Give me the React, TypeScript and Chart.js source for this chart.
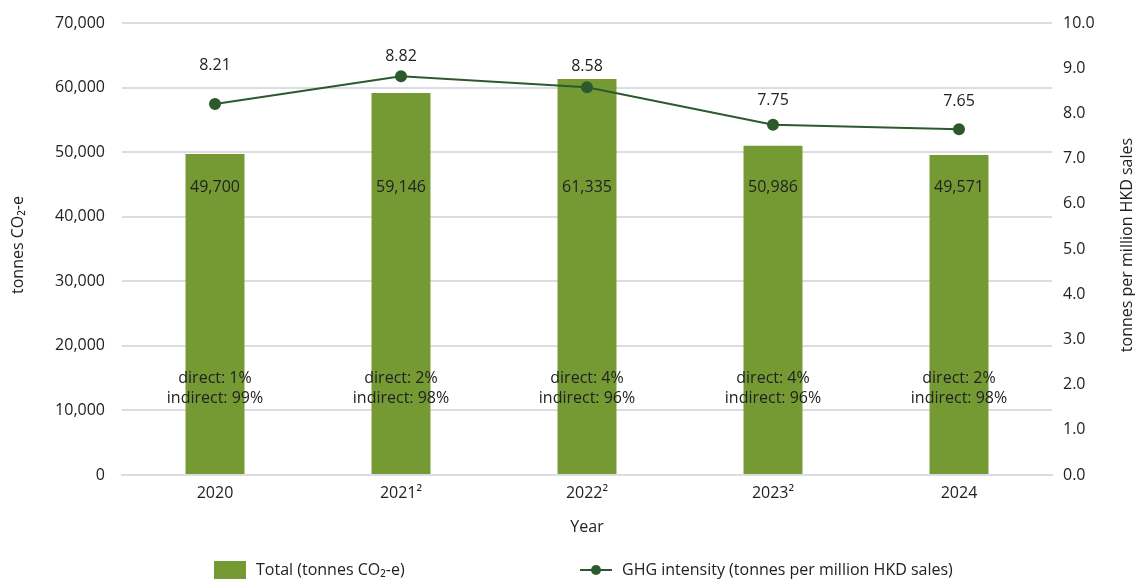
import React, { useEffect, useRef } from "react";
import { Chart, registerables } from "chart.js";

Chart.register(...registerables);

const years = ["2020", "2021²", "2022²", "2023²", "2024"];
const totals = [49700, 59146, 61335, 50986, 49571];
const intensity = [8.21, 8.82, 8.58, 7.75, 7.65];
const directShare = ["1%", "2%", "4%", "4%", "2%"];
const indirectShare = ["99%", "98%", "96%", "96%", "98%"];
const intensityLabelLift = [38, 20, 21, 24, 28];

const FONT = "'Open Sans', 'Noto Sans', sans-serif";
const TEXT = "#222222";
const BAR = "#769A33";
const LINE = "#2C5A2C";
const GRID = "#DCDCE3";

const overlayPlugin = {
  id: "overlay",
  afterDatasetsDraw(chart: any) {
    const ctx = chart.ctx;
    const area = chart.chartArea;
    const h = area.bottom - area.top;
    ctx.save();
    ctx.fillStyle = TEXT;
    ctx.textAlign = "center";
    ctx.textBaseline = "middle";
    ctx.font = `16px ${FONT}`;
    const barMeta = chart.getDatasetMeta(0);
    barMeta.data.forEach((bar: any, i: number) => {
      ctx.fillText(totals[i].toLocaleString("en-US"), bar.x, area.top + 0.363 * h);
      ctx.fillText(`direct: ${directShare[i]}`, bar.x, area.top + 0.786 * h);
      ctx.fillText(`indirect: ${indirectShare[i]}`, bar.x, area.top + 0.83 * h);
    });
    const lineMeta = chart.getDatasetMeta(1);
    lineMeta.data.forEach((pt: any, i: number) => {
      ctx.fillText(intensity[i].toFixed(2), pt.x, pt.y - intensityLabelLift[i]);
    });
    // axis titles (both read bottom-to-top)
    const cy = area.top + h / 2 - 4;
    ctx.save();
    ctx.translate(18, cy);
    ctx.rotate(-Math.PI / 2);
    ctx.fillText("tonnes CO₂-e", 0, 0);
    ctx.restore();
    ctx.save();
    ctx.translate(1127, cy);
    ctx.rotate(-Math.PI / 2);
    ctx.fillText("tonnes per million HKD sales", 0, 0);
    ctx.restore();
    // legend
    const ly = 570;
    ctx.fillStyle = BAR;
    ctx.fillRect(214, 561, 32, 18);
    ctx.fillStyle = TEXT;
    ctx.textAlign = "left";
    ctx.fillText("Total (tonnes CO₂-e)", 256, ly);
    ctx.strokeStyle = LINE;
    ctx.lineWidth = 2;
    ctx.beginPath();
    ctx.moveTo(580, ly);
    ctx.lineTo(612, ly);
    ctx.stroke();
    ctx.fillStyle = LINE;
    ctx.beginPath();
    ctx.arc(596, ly, 5, 0, Math.PI * 2);
    ctx.fill();
    ctx.fillStyle = TEXT;
    ctx.fillText("GHG intensity (tonnes per million HKD sales)", 622, ly);
    ctx.restore();
  },
};

export default function App() {
  const ref = useRef<HTMLCanvasElement | null>(null);
  useEffect(() => {
    if (!ref.current) return;
    const chart = new Chart(ref.current, {
      type: "bar",
      data: {
        labels: years,
        datasets: [
          {
            type: "bar",
            label: "Total (tonnes CO₂-e)",
            data: totals,
            backgroundColor: BAR,
            yAxisID: "y",
            barPercentage: 0.317,
            categoryPercentage: 1,
            order: 2,
          },
          {
            type: "line",
            label: "GHG intensity (tonnes per million HKD sales)",
            data: intensity,
            borderColor: LINE,
            backgroundColor: LINE,
            borderWidth: 2,
            pointRadius: 5,
            pointBackgroundColor: LINE,
            pointBorderColor: LINE,
            yAxisID: "y1",
            order: 1,
          },
        ],
      } as any,
      plugins: [overlayPlugin],
      options: {
        animation: false,
        responsive: false,
        maintainAspectRatio: false,
        layout: { padding: { top: 23, bottom: 44, left: 0, right: 0 } },
        plugins: {
          legend: { display: false },
          tooltip: { enabled: false },
        },
        scales: {
          x: {
            grid: { display: false, drawTicks: false },
            border: { color: GRID, width: 2 },
            ticks: { color: TEXT, font: { family: FONT, size: 16 }, padding: 9 },
            title: {
              display: true,
              text: "Year",
              color: TEXT,
              font: { family: FONT, size: 16 },
              padding: { top: 8, bottom: 0 },
            },
            afterFit(scale: any) {
              scale.height = 62;
              scale.paddingLeft = 0;
              scale.paddingRight = 0;
            },
          },
          y: {
            position: "left",
            min: 0,
            max: 70000,
            ticks: {
              stepSize: 10000,
              color: TEXT,
              font: { family: FONT, size: 16 },
              padding: 17,
              callback: (v: any) => Number(v).toLocaleString("en-US"),
            },
            grid: { color: GRID, lineWidth: 2, drawTicks: false },
            border: { display: false },
            afterFit(scale: any) {
              scale.width = 122;
              scale.paddingTop = 0;
              scale.paddingBottom = 0;
            },
          },
          y1: {
            position: "right",
            min: 0,
            max: 10,
            ticks: {
              stepSize: 1,
              color: TEXT,
              font: { family: FONT, size: 16 },
              padding: 11,
              callback: (v: any) => Number(v).toFixed(1),
            },
            grid: { display: false, drawTicks: false },
            border: { display: false },
            afterFit(scale: any) {
              scale.width = 83;
              scale.paddingTop = 0;
              scale.paddingBottom = 0;
            },
          },
        },
      } as any,
    });
    return () => chart.destroy();
  }, []);
  return (
    <div style={{ position: "fixed", left: 0, top: 0, width: 1135, height: 581, background: "#fff" }}>
      <canvas ref={ref} width={1135} height={581} style={{ display: "block" }} />
    </div>
  );
}
